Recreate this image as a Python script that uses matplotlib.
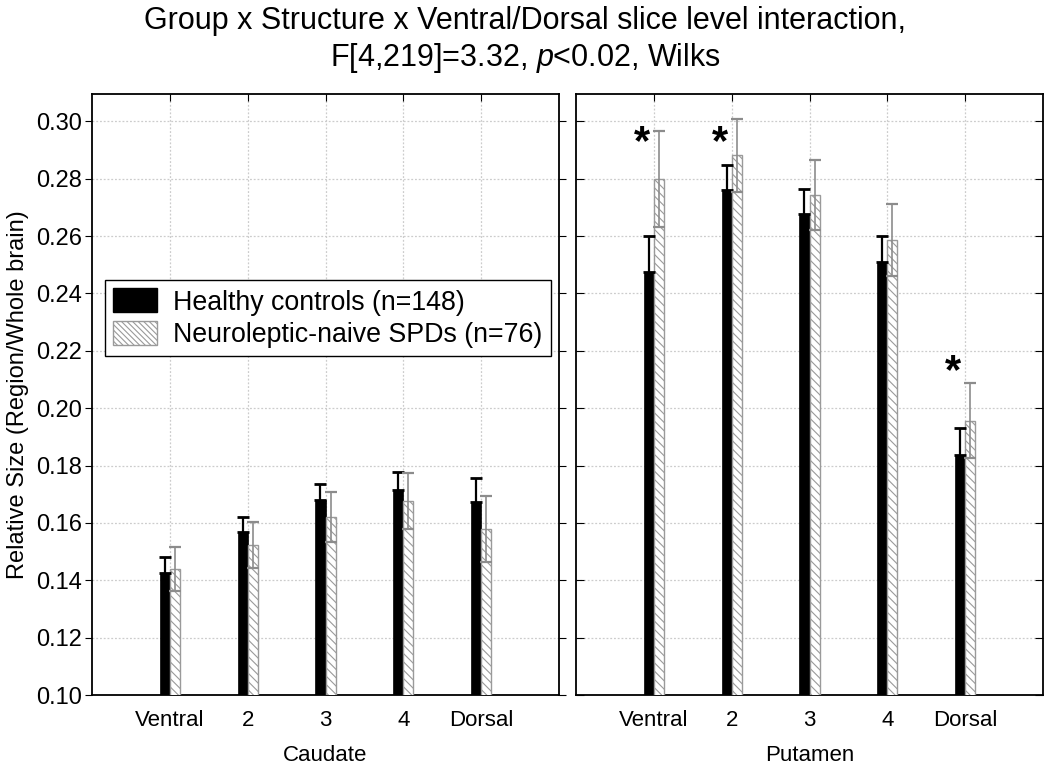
import matplotlib
matplotlib.use("Agg")
import matplotlib.pyplot as plt
import numpy as np
from matplotlib.patches import Patch

levels = ["Ventral", "2", "3", "4", "Dorsal"]
structures = ["Caudate", "Putamen"]
series = ["Healthy controls (n=148)", "Neuroleptic-naive SPDs (n=76)"]

caudate_hc = [0.1426, 0.1569, 0.1680, 0.1716, 0.1674]
caudate_hc_err = [0.0056, 0.0052, 0.0057, 0.0062, 0.0084]
caudate_spd = [0.1440, 0.1524, 0.1621, 0.1677, 0.1580]
caudate_spd_err = [0.0077, 0.0080, 0.0088, 0.0098, 0.0115]

putamen_hc = [0.2476, 0.2759, 0.2675, 0.2508, 0.1838]
putamen_hc_err = [0.0123, 0.0088, 0.0088, 0.0091, 0.0094]
putamen_spd = [0.2798, 0.2881, 0.2742, 0.2585, 0.1956]
putamen_spd_err = [0.0167, 0.0126, 0.0122, 0.0125, 0.0130]

# significance asterisks (putamen): level index -> height
putamen_sig_levels = [0, 1, 4]
putamen_sig_heights = [0.2925, 0.2925, 0.2124]

title = "Group x Structure x Ventral/Dorsal slice level interaction,\nF[4,219]=3.32, $p$<0.02, Wilks"

plt.rcParams["font.family"] = ["Liberation Sans", "DejaVu Sans"]
plt.rcParams["mathtext.fontset"] = "custom"
plt.rcParams["mathtext.it"] = "Liberation Sans:italic"
plt.rcParams["mathtext.rm"] = "Liberation Sans"
plt.rcParams["hatch.color"] = "#8a8a8a"
plt.rcParams["hatch.linewidth"] = 0.8

fig = plt.figure(figsize=(10.5, 7.65), dpi=100)
W, H = 1050, 765
axL = fig.add_axes([92 / W, (H - 695) / H, 467 / W, 601 / H])
axR = fig.add_axes([576 / W, (H - 695) / H, 467 / W, 601 / H])

x = np.arange(1, len(levels) + 1)
bw = 0.13

data = [(caudate_hc, caudate_hc_err, caudate_spd, caudate_spd_err),
        (putamen_hc, putamen_hc_err, putamen_spd, putamen_spd_err)]

yt = np.arange(0.10, 0.301, 0.02)
for i, (ax, (hc, hce, spd, spde), name) in enumerate(zip([axL, axR], data, structures)):
    ax.set_xlim(0, 6)
    ax.set_ylim(0.10, 0.3095)
    ax.set_yticks(yt)
    ax.set_xticks(x)
    ax.grid(True, linestyle=(0, (1.5, 1.5)), color="#cccccc", linewidth=0.9)
    ax.set_axisbelow(True)
    ax.bar(x - bw / 2, hc, width=bw, color="black", edgecolor="black", linewidth=0.5, zorder=3)
    ax.bar(x + bw / 2, spd, width=bw, color="white", edgecolor="#9a9a9a", hatch="\\\\\\\\", linewidth=1.0, zorder=3)
    ax.errorbar(x - bw / 2, hc, yerr=[np.zeros(len(hc)), hce], fmt="none", ecolor="black",
                elinewidth=1.6, capsize=4.5, capthick=2.0, zorder=4)
    ax.errorbar(x + bw / 2, spd, yerr=spde, fmt="none", ecolor="#8c8c8c",
                elinewidth=1.2, capsize=4.5, capthick=1.6, zorder=4)
    ax.set_xticklabels(levels, fontsize=16)
    ax.set_xlabel(name, fontsize=16, labelpad=10)
    ax.tick_params(axis="x", which="both", bottom=False, top=True, direction="in", length=5, pad=11)
    for s in ax.spines.values():
        s.set_linewidth(1.3)
        s.set_color("black")
    if i == 0:
        ax.tick_params(axis="y", left=True, right=True, direction="out", length=5, pad=2, labelsize=17)
        ax.set_yticklabels(["%.2f" % v for v in yt])
        ax.set_ylabel("Relative Size (Region/Whole brain)", fontsize=17, labelpad=5)
    else:
        ax.tick_params(axis="y", left=True, right=True, direction="in", length=6, labelleft=False)

for li, hy in zip(putamen_sig_levels, putamen_sig_heights):
    axR.text(x[li] - 0.15, hy, "*", fontsize=30, ha="center", va="center", fontweight="bold")

handles = [Patch(facecolor="black", edgecolor="black"),
           Patch(facecolor="white", edgecolor="#9a9a9a", hatch="\\\\\\\\\\\\")]
leg = axL.legend(handles, series, loc="upper left", bbox_to_anchor=(0.028, 0.69), fontsize=19.3,
                 frameon=True, fancybox=False, edgecolor="black", framealpha=1,
                 handlelength=1.65, handleheight=1.0, borderpad=0.3, labelspacing=0.2,
                 handletextpad=0.6, borderaxespad=0)
leg.get_frame().set_linewidth(1.0)

fig.text(0.5, 0.992, title, ha="center", va="top", fontsize=22, linespacing=1.2)

fig.savefig("out.png", dpi=100)
